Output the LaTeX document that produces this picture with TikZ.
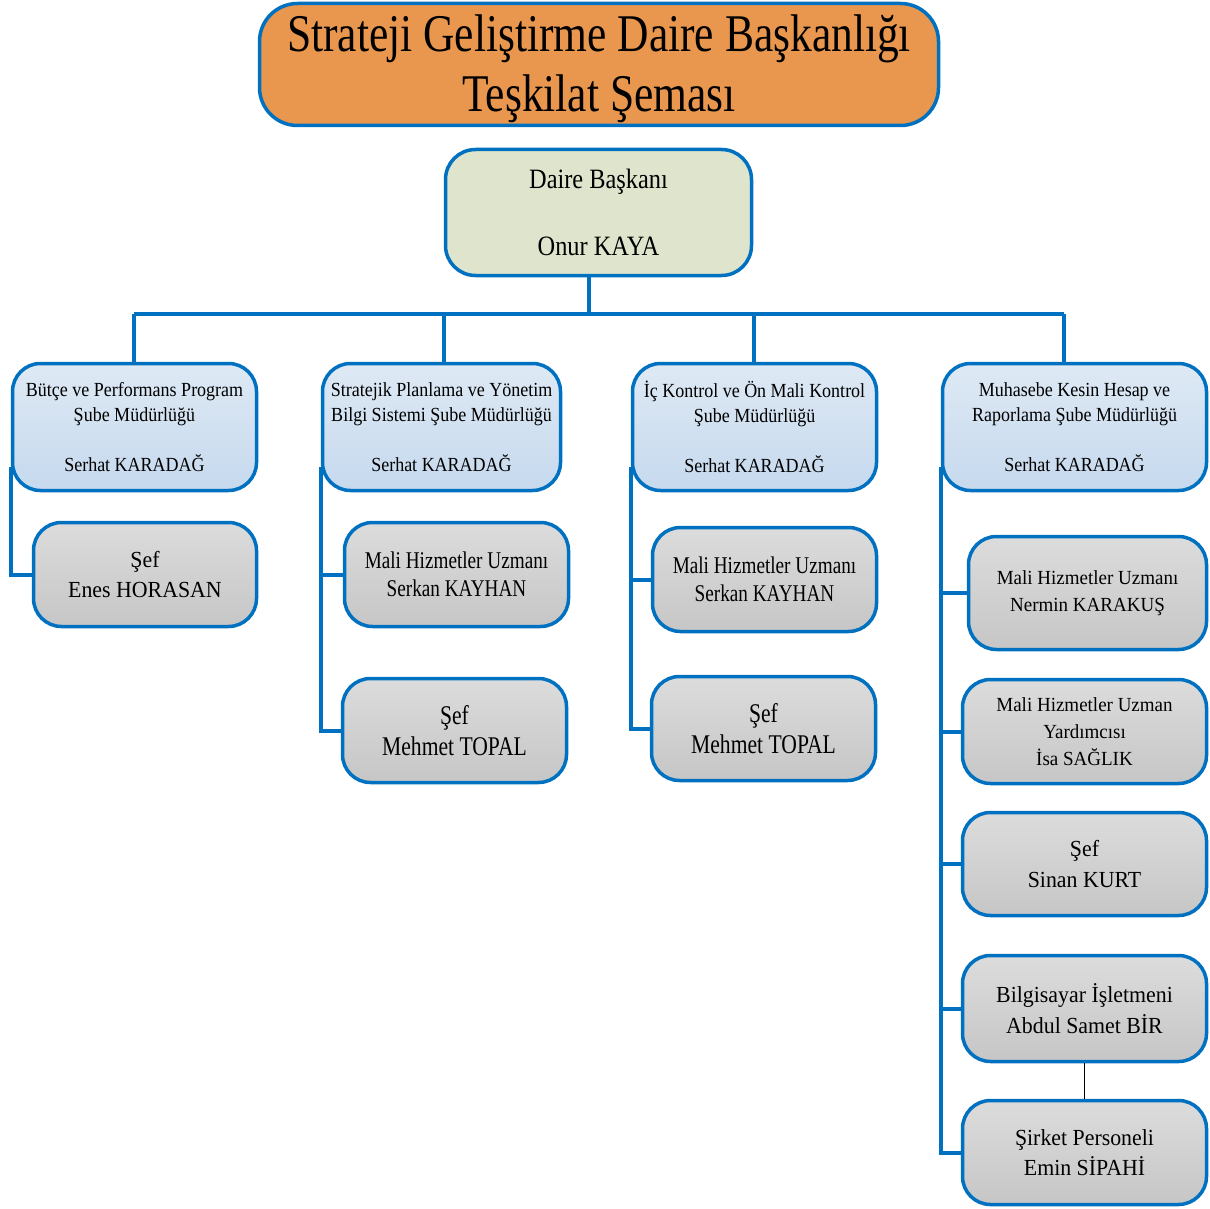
\documentclass[tikz,border=0pt]{standalone}
\usepackage{fontspec}
\setmainfont{Liberation Serif}
\newfontfamily\fA{Liberation Serif}[FakeStretch=0.82]
\newfontfamily\fB{Liberation Serif}[FakeStretch=0.87]
\newfontfamily\fC{Liberation Serif}[FakeStretch=0.90]
\newfontfamily\fD{Liberation Serif}[FakeStretch=0.80]
\newfontfamily\fE{Liberation Serif}[FakeStretch=0.95]
\definecolor{bl}{HTML}{0070C0}
\definecolor{orangeF}{HTML}{E9974F}
\definecolor{oliveF}{HTML}{DFE5CC}
\definecolor{blueTop}{HTML}{DEE9F4}
\definecolor{blueBot}{HTML}{C6D9EE}
\definecolor{grayTop}{HTML}{DCDCDC}
\definecolor{grayBot}{HTML}{C6C6C6}
\begin{document}
\begin{tikzpicture}[x=1pt,y=-1pt,
  box/.style={draw=bl, line width=3.5pt, rounded corners=28pt, align=center, inner sep=0pt},
  titlebox/.style={box, fill=orangeF, rounded corners=38pt, minimum width=679pt, minimum height=122pt},
  headbox/.style={box, fill=oliveF, rounded corners=30pt, minimum width=306pt, minimum height=126pt},
  branchbox/.style={box, top color=blueTop, bottom color=blueBot, minimum height=127pt,
    font={\fC\fontsize{20pt}{25pt}\selectfont}},
  childbox/.style={box, top color=grayTop, bottom color=grayBot, minimum width=224pt, minimum height=104pt},
  smallD/.style={font={\fD\fontsize{24pt}{27.5pt}\selectfont}},
  bigD/.style={font={\fD\fontsize{27pt}{31pt}\selectfont}},
  smallE/.style={font={\fE\fontsize{20pt}{27pt}\selectfont}},
  bigE/.style={font={\fE\fontsize{23pt}{30.5pt}\selectfont}},
  conn/.style={draw=bl, line width=4pt}
]
\useasboundingbox (0,0) rectangle (1210,1209);

% title and head
\node[titlebox, font={\fA\fontsize{53pt}{60pt}\selectfont}] (title) at (599,64.5)
  {\rule{0pt}{46pt}Strateji Geliştirme Daire Başkanlığı\\Teşkilat Şeması};
\node[headbox, font={\fB\fontsize{28pt}{33.5pt}\selectfont}] (head) at (598.5,212.5)
  {Daire Başkanı\\[33.5pt]Onur KAYA};

% branches
\node[branchbox, minimum width=244pt] (b1) at (134.5,427)
  {Bütçe ve Performans Program\\Şube Müdürlüğü\\[25pt]Serhat KARADAĞ};
\node[branchbox, minimum width=238pt] (b2) at (441.5,427)
  {Stratejik Planlama ve Yönetim\\Bilgi Sistemi Şube Müdürlüğü\\[25pt]Serhat KARADAĞ};
\node[branchbox, minimum width=244pt] (b3) at (754.5,427)
  {İç Kontrol ve Ön Mali Kontrol\\Şube Müdürlüğü\\[25pt]Serhat KARADAĞ};
\node[branchbox, minimum width=264pt] (b4) at (1074.5,427)
  {Muhasebe Kesin Hesap ve\\Raporlama Şube Müdürlüğü\\[25pt]Serhat KARADAĞ};

% children
\node[childbox, bigE, minimum width=223pt] (c1) at (145,574.5) {Şef\\Enes HORASAN};
\node[childbox, smallD] (c21) at (456.5,574.5) {Mali Hizmetler Uzmanı\\Serkan KAYHAN};
\node[childbox, bigD] (c22) at (454.5,730.5) {Şef\\Mehmet TOPAL};
\node[childbox, smallD] (c31) at (764.5,579.5) {Mali Hizmetler Uzmanı\\Serkan KAYHAN};
\node[childbox, bigD] (c32) at (763.5,728.5) {Şef\\Mehmet TOPAL};
\node[childbox, smallE, minimum width=238pt, minimum height=113pt] (c41) at (1087.5,593)
  {Mali Hizmetler Uzmanı\\Nermin KARAKUŞ};
\node[childbox, smallE, minimum width=244pt] (c42) at (1084.5,731.5)
  {Mali Hizmetler Uzman\\Yardımcısı\\İsa SAĞLIK};
\node[childbox, bigE, minimum width=244pt, minimum height=103pt] (c43) at (1084.5,864)
  {Şef\\Sinan KURT};
\node[childbox, bigE, minimum width=244pt, minimum height=106pt] (c44) at (1084.5,1008.5)
  {Bilgisayar İşletmeni\\Abdul Samet BİR};
\node[childbox, bigE, minimum width=244pt] (c45) at (1084.5,1152.5)
  {Şirket Personeli\\Emin SİPAHİ};

% top connectors
\coordinate (hub) at (589,314);
\coordinate (t1) at (134,314);
\coordinate (t2) at (444,314);
\coordinate (t3) at (754,314);
\coordinate (t4) at (1064,314);
\draw[conn] (hub |- head.south) -- (hub);
\draw[conn] (t1) -- (t4);
\draw[conn] (t1) -- (t1 |- b1.north);
\draw[conn] (t2) -- (t2 |- b2.north);
\draw[conn] (t3) -- (t3 |- b3.north);
\draw[conn] (t4) -- (t4 |- b4.north);

% branch 1
\draw[conn] ([yshift=25pt]b1.south west) |- (c1.west);
% branch 2
\draw[conn] ([yshift=25pt]b2.south west) |- (c22.west);
\draw[conn] (b2.south west |- c21.west) -- (c21.west);
% branch 3
\draw[conn] ([yshift=25pt]b3.south west) |- (c32.west);
\draw[conn] (b3.south west |- c31.west) -- (c31.west);
% branch 4
\draw[conn] ([yshift=25pt]b4.south west) |- (c45.west);
\draw[conn] (b4.south west |- c41.west) -- (c41.west);
\draw[conn] (b4.south west |- c42.west) -- (c42.west);
\draw[conn] (b4.south west |- c43.west) -- (c43.west);
\draw[conn] (b4.south west |- c44.west) -- (c44.west);
\draw[line width=1.2pt] (c44.south) -- (c45.north);
\end{tikzpicture}
\end{document}
